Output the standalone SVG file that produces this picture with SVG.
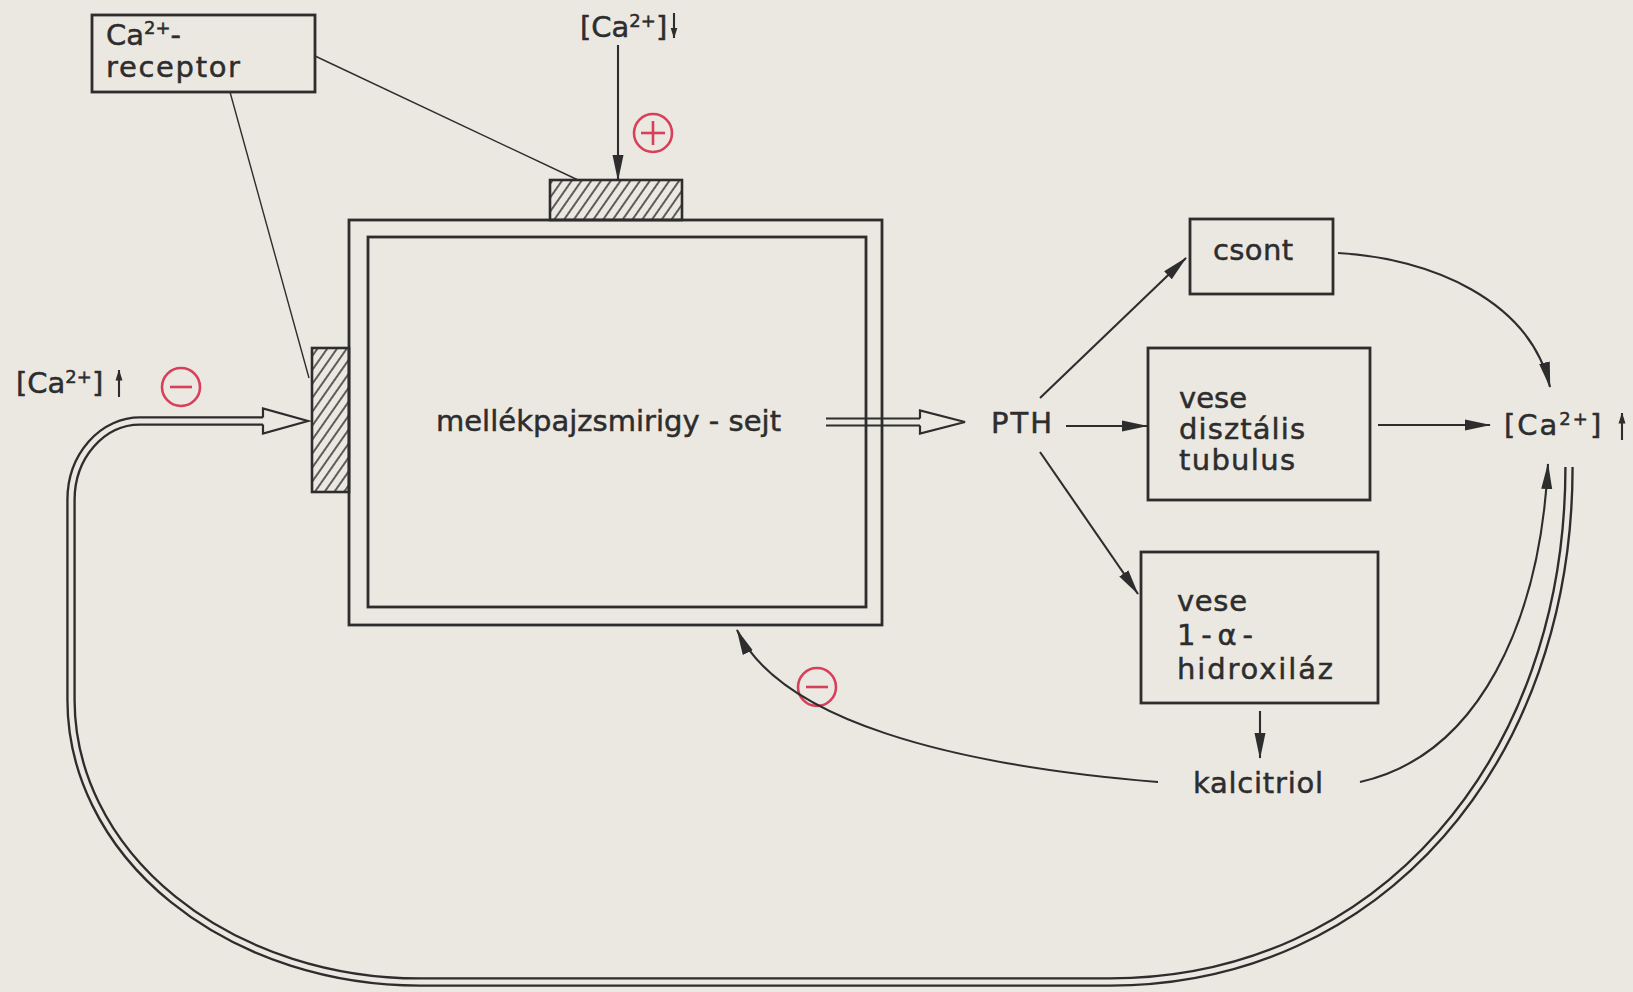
<svg xmlns="http://www.w3.org/2000/svg" width="1633" height="992" viewBox="0 0 1633 992">
<defs>
<style>
.box{stroke:#2d2d2d;stroke-width:2.8;fill:none}
.hbox{stroke:#2d2d2d;stroke-width:2.6;fill:url(#hatch)}
.lbl{font-family:"DejaVu Sans","Liberation Sans",sans-serif;font-size:29px;fill:#2d2d2d;stroke:#2d2d2d;stroke-width:0.5}
.conn{stroke:#2d2d2d;stroke-width:2.1;fill:none}
.thin{stroke:#2d2d2d;stroke-width:1.4;fill:none}
.dbl{stroke:#2d2d2d;stroke-width:2.2;fill:none}
.sign{stroke:#d8405a;stroke-width:2.6;fill:none}
</style>
<pattern id="hatch" width="8" height="8" patternUnits="userSpaceOnUse" patternTransform="rotate(35)">
<line x1="4" y1="0" x2="4" y2="8" stroke="#2d2d2d" stroke-width="1.5"/>
</pattern>
<marker id="ah" markerUnits="userSpaceOnUse" viewBox="0 0 26 12" refX="25" refY="6" markerWidth="26" markerHeight="12" orient="auto">
<path d="M0,0.5 L26,6 L0,11.5 z" fill="#2d2d2d"/>
</marker>
<marker id="ahs" markerUnits="userSpaceOnUse" viewBox="0 0 11 8" refX="10.5" refY="4" markerWidth="11" markerHeight="8" orient="auto">
<path d="M0,0.5 L11,4 L0,7.5 z" fill="#2d2d2d"/>
</marker>
</defs>
<rect width="1633" height="992" fill="#ebe8e2"/>

<g id="receptor">
<rect class="box" x="92" y="15" width="223" height="77"/>
<text class="lbl" x="106" y="45">Ca<tspan font-size="18" dy="-11">2+</tspan><tspan dy="11">-</tspan></text>
<text class="lbl" x="106" y="77" textLength="134" lengthAdjust="spacing">receptor</text>
</g>

<g id="ca-low">
<text class="lbl" x="580" y="37">[Ca<tspan font-size="18" dy="-10">2+</tspan><tspan dy="10">]</tspan></text>
</g>

<g id="ca-high-left">
<text class="lbl" x="16" y="393">[Ca<tspan font-size="18" dy="-10">2+</tspan><tspan dy="10">]</tspan></text>
</g>

<g id="cell">
<rect class="box" x="349" y="220" width="533" height="405"/>
<rect class="box" x="368" y="237" width="498" height="370"/>
<text class="lbl" x="436" y="431" textLength="345" lengthAdjust="spacing">mellékpajzsmirigy - sejt</text>
</g>

<g id="site-top">
<rect class="hbox" x="550" y="180" width="132" height="40"/>
</g>

<g id="site-left">
<rect class="hbox" x="312" y="348" width="37" height="144"/>
</g>

<g id="pth">
<text class="lbl" x="991" y="433" textLength="61" lengthAdjust="spacing">PTH</text>
</g>

<g id="csont">
<rect class="box" x="1190" y="219" width="143" height="75"/>
<text class="lbl" x="1213" y="260" textLength="80" lengthAdjust="spacing">csont</text>
</g>

<g id="vese-tubulus">
<rect class="box" x="1148" y="348" width="222" height="152"/>
<text class="lbl" x="1179" y="408" textLength="68" lengthAdjust="spacing">vese</text>
<text class="lbl" x="1179" y="439" textLength="126" lengthAdjust="spacing">disztális</text>
<text class="lbl" x="1179" y="470" textLength="116" lengthAdjust="spacing">tubulus</text>
</g>

<g id="vese-hidroxilaz">
<rect class="box" x="1141" y="552" width="237" height="151"/>
<text class="lbl" x="1177" y="611" textLength="70" lengthAdjust="spacing">vese</text>
<text class="lbl" x="1177" y="645" textLength="76" lengthAdjust="spacing">1-α-</text>
<text class="lbl" x="1177" y="679" textLength="156" lengthAdjust="spacing">hidroxiláz</text>
</g>

<g id="kalcitriol">
<text class="lbl" x="1193" y="793" textLength="130" lengthAdjust="spacing">kalcitriol</text>
</g>

<g id="ca-high-right">
<text class="lbl" x="1504" y="435" letter-spacing="2">[Ca<tspan font-size="18" dy="-10">2+</tspan><tspan dy="10">]</tspan></text>
</g>

<g id="signs">
<g class="sign"><circle cx="653" cy="133" r="19"/><line x1="641" y1="133" x2="665" y2="133"/><line x1="653" y1="121" x2="653" y2="145"/></g>
<g class="sign"><circle cx="181" cy="387" r="19"/><line x1="170" y1="387" x2="192" y2="387"/></g>
<g class="sign"><circle cx="817" cy="687" r="19"/><line x1="806" y1="687" x2="828" y2="687"/></g>
</g>

<g id="connectors">
<path class="thin" d="M315,56 L578,180"/>
<path class="thin" d="M230,92 L309,378"/>
<path class="conn" d="M618,45 V180" marker-end="url(#ah)"/>
<path class="conn" d="M674,13 V38" marker-end="url(#ahs)"/>
<path class="conn" d="M119,397 V370" marker-end="url(#ahs)"/>
<path class="conn" d="M1622,440 V413" marker-end="url(#ahs)"/>

<path class="conn" d="M1040,398 L1186,258" marker-end="url(#ah)"/>
<path class="conn" d="M1066,426 H1147" marker-end="url(#ah)"/>
<path class="conn" d="M1040,452 L1138,594" marker-end="url(#ah)"/>
<path class="conn" d="M1378,425 H1490" marker-end="url(#ah)"/>
<path class="conn" d="M1260,711 V758" marker-end="url(#ah)"/>
<path class="conn" d="M1338,253 C1430,258 1530,300 1550,387" marker-end="url(#ah)"/>
<path class="conn" d="M1360,782 C1480,755 1540,620 1548,464" marker-end="url(#ah)"/>
<path class="conn" d="M1158,782 C950,765 780,720 737,630" marker-end="url(#ah)"/>

<path class="dbl" d="M826,418.5 H920 M826,425.5 H920"/>
<path class="dbl" d="M920,418.5 V410.5 L965,422 L920,433.5 V425.5" stroke-linejoin="miter"/>

<path d="M263,421 H140 A69,79 0 0 0 71,500 V700 A349,282 0 0 0 420,982 H1110 C1380,982 1569,760 1569,467" fill="none" stroke="#2d2d2d" stroke-width="9.5"/>
<path d="M263,421 H140 A69,79 0 0 0 71,500 V700 A349,282 0 0 0 420,982 H1110 C1380,982 1569,760 1569,467" fill="none" stroke="#ebe8e2" stroke-width="4.8"/>
<path class="dbl" d="M263,417.5 V408.5 L308,421 L263,433.5 V424.5" stroke-linejoin="miter"/>
</g>
</svg>
